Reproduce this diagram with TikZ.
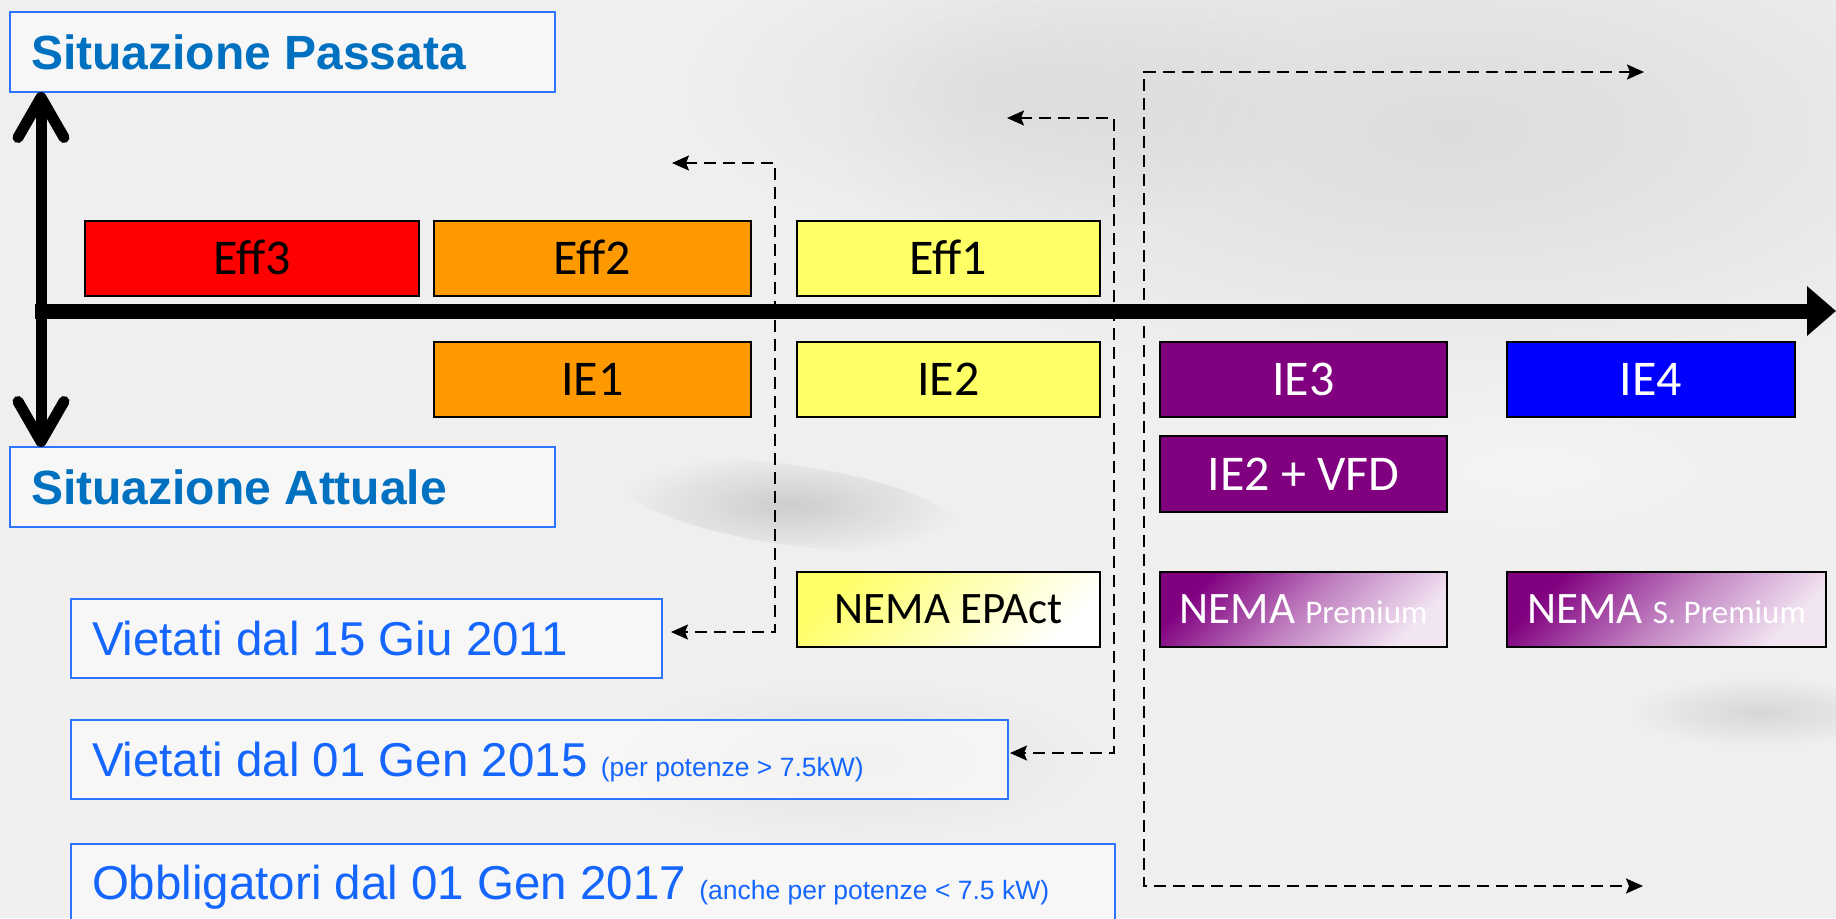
\documentclass[tikz,border=0pt]{standalone}
\usepackage{fontspec}
\setmainfont{Liberation Sans}
\newfontfamily\boxfont{Carlito}
\usetikzlibrary{arrows.meta,fadings,calc}
\definecolor{sitblue}{HTML}{0070C0}
\definecolor{vietblue}{HTML}{1466FF}
\definecolor{frameblue}{HTML}{2F74FF}
\definecolor{effred}{HTML}{FF0000}
\definecolor{efforange}{HTML}{FF9900}
\definecolor{effyellow}{HTML}{FFFF66}
\definecolor{iepurple}{HTML}{800080}
\definecolor{ieblue}{HTML}{0000FF}
\definecolor{bgray}{HTML}{EFEFEF}
\tikzfading[name=softblob, inner color=transparent!0, outer color=transparent!100]
\begin{document}
\begin{tikzpicture}[x=1pt,y=-1pt,
  effbox/.style={draw=black, line width=2pt, inner sep=0pt, outer sep=0pt, anchor=north west,
    font=\boxfont\fontsize{50}{50}\selectfont, text height=32pt, text depth=0pt},
  nemabox/.style={effbox, font=\boxfont\fontsize{45}{45}\selectfont, text height=28pt},
  sitbox/.style={draw=frameblue, line width=2.5pt, fill=white, fill opacity=0.55, text opacity=1,
    anchor=north west, inner xsep=21pt, inner ysep=0pt, outer sep=0pt,
    text height=34pt, text depth=0pt},
  sittitle/.style={sitbox, text=sitblue, font=\fontsize{48}{48}\selectfont\bfseries},
  viettext/.style={sitbox, text=vietblue, font=\fontsize{47.5}{47.5}\selectfont},
  conn/.style={line width=2pt, dash pattern=on 12pt off 7pt,
    {Stealth[length=17pt,width=15pt,inset=3pt]}-{Stealth[length=17pt,width=15pt,inset=3pt]}},
  premshade/.style={top color=iepurple, bottom color=iepurple!10!white, middle color=iepurple!50!white, shading angle=45}
]
\useasboundingbox (0,0) rectangle (1836,918);
% background
\fill[bgray] (0,0) rectangle (1836,918);
\fill[black, opacity=0.08, path fading=softblob] (1450,130) ellipse [x radius=620, y radius=260];
\fill[black, opacity=0.05, path fading=softblob] (1000,90) ellipse [x radius=320, y radius=150];
\fill[black, opacity=0.14, path fading=softblob, rotate around={-8:(790,505)}] (790,505) ellipse [x radius=170, y radius=40];
\fill[black, opacity=0.10, path fading=softblob] (1760,712) ellipse [x radius=130, y radius=35];
\fill[black, opacity=0.05, path fading=softblob] (850,760) ellipse [x radius=250, y radius=80];
\fill[white, opacity=0.35, path fading=softblob] (1530,470) ellipse [x radius=260, y radius=90];

% situation boxes
\node[sittitle, minimum height=80pt] (passata) at (10,12) {\makebox[503pt][l]{Situazione Passata}};
\node[sittitle, minimum height=80pt] (attuale) at (10,447) {\makebox[503pt][l]{Situazione Attuale}};

% axes
\coordinate (vx) at (41,300);
\draw[line width=11pt, {Straight Barb[length=40pt,width=46pt,round]}-{Straight Barb[length=40pt,width=46pt,round]}]
  (passata.south -| vx) -- (attuale.north -| vx);
\coordinate (hstart) at (35,311);
\coordinate (hend) at (1836,311);
\draw[line width=15pt, -{Triangle[length=29pt,width=48pt]}] (hstart) -- (hend);

% efficiency boxes
\node[effbox, fill=effred, minimum width=334pt, minimum height=75pt] (eff3) at (85,221) {Eff3};
\node[effbox, fill=efforange, minimum width=317pt, minimum height=75pt] (eff2) at (434,221) {Eff2};
\node[effbox, fill=effyellow, minimum width=303pt, minimum height=75pt] (eff1) at (797,221) {Eff1};
\node[effbox, fill=efforange, minimum width=317pt, minimum height=75pt] (ie1) at (434,342) {IE1};
\node[effbox, fill=effyellow, minimum width=303pt, minimum height=75pt] (ie2) at (797,342) {IE2};
\node[effbox, fill=iepurple, text=white, minimum width=287pt, minimum height=75pt] (ie3) at (1160,342) {IE3};
\node[effbox, fill=ieblue, text=white, minimum width=288pt, minimum height=75pt] (ie4) at (1507,342) {IE4};
\node[effbox, fill=iepurple, text=white, minimum width=287pt, minimum height=76pt] (vfd) at (1160,436) {IE2 + VFD};
\node[nemabox, top color=effyellow, bottom color=white, shading angle=45,
  minimum width=303pt, minimum height=75pt] (epact) at (797,572) {NEMA EPAct};
\node[nemabox, premshade, text=white,
  minimum width=287pt, minimum height=75pt] (prem) at (1160,572) {NEMA {\fontsize{33}{33}\selectfont Premium}};
\node[nemabox, premshade, text=white,
  minimum width=319pt, minimum height=75pt] (sprem) at (1507,572) {NEMA {\fontsize{33}{33}\selectfont S. Premium}};

% date boxes
\node[viettext, minimum height=79pt] (v11) at (71,599) {\makebox[549pt][l]{Vietati dal 15 Giu 2011}};
\node[viettext, minimum height=79pt] (v15) at (71,720)
  {\makebox[895pt][l]{Vietati dal 01 Gen 2015 {\fontsize{26.5}{26.5}\selectfont (per potenze > 7.5kW)}}};
\node[viettext, minimum height=76pt] (v17) at (71,844)
  {\makebox[1002pt][l]{Obbligatori dal 01 Gen 2017 {\fontsize{26.5}{26.5}\selectfont (anche per potenze < 7.5 kW)}}};

% dashed connectors
\coordinate (d1a) at (672,163);
\coordinate (d1b) at (775,632);
\draw[conn] (d1a) -| (d1b) -- ($(v11.east)+(9,-6.5)$);
\coordinate (d2a) at (1007,118);
\coordinate (d2b) at (1114,753);
\draw[conn] (d2a) -| (d2b) -- ($(v15.east)+(2,-6.5)$);
\coordinate (d3a) at (1644,72);
\coordinate (d3b) at (1144,886);
\coordinate (d3c) at (1643,886);
\draw[conn] (d3a) -| (d3b) -- (d3c);
\end{tikzpicture}
\end{document}
